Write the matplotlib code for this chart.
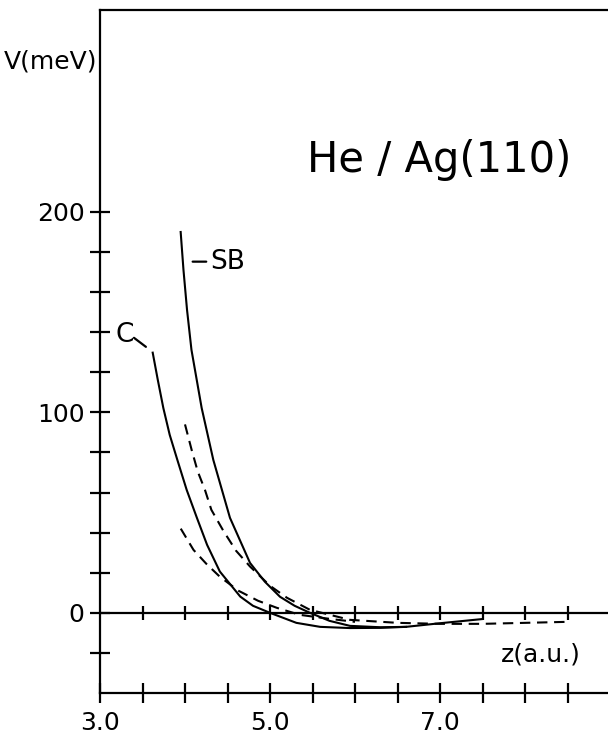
import matplotlib
matplotlib.use("Agg")
import matplotlib.pyplot as plt

plt.rcParams['font.family'] = ['DejaVu Sans']

# Solid curve labelled SB
sb_z = [3.949, 3.982, 4.024, 4.076, 4.196, 4.333, 4.529, 4.765, 4.94, 5.118, 5.29, 5.47, 5.7, 5.94,
        6.3, 6.6, 7.0, 7.5]
sb_v = [190.0, 171.1, 151.1, 131.2, 102.2, 76.3, 47.4, 24.9, 15.5, 8.0, 3.5, 0, -4, -6.5,
        -7.2, -7.0, -5.2, -3.1]

# Solid curve labelled C
c_z = [3.62, 3.68, 3.745, 3.82, 3.91, 4.02, 4.14, 4.26, 4.41, 4.65, 4.8, 5.0, 5.31, 5.59, 5.94, 6.3, 6.6]
c_v = [129.8, 116.2, 102.2, 88.8, 76.3, 61.3, 47.4, 33.9, 20.6, 8.1, 3.5, 0, -5, -7, -7.6, -7.5, -7]

# Dashed curve (upper)
du_z = [4.0, 4.08, 4.15, 4.235, 4.31, 4.45, 4.6, 4.765, 5.0, 5.2, 5.47, 5.94, 6.5, 7.0, 7.5, 8.0, 8.5]
du_v = [94, 81, 70.5, 61.3, 51.4, 41, 31, 23.1, 13.5, 7.5, 1.5, -3.5, -5, -5.5, -5.5, -5, -4.5]

# Dashed curve (lower)
dl_z = [3.95, 4.1, 4.25, 4.41, 4.63, 4.86, 5.08, 5.35, 5.7, 6.0]
dl_v = [42, 31.4, 24.5, 18, 11.0, 6.0, 2.5, -1, -3, -4.5]

x_major = [3.0, 5.0, 7.0]
x_minor = [3.5, 4.0, 4.5, 5.5, 6.0, 6.5, 7.5, 8.0, 8.5]
y_major = [0, 100, 200]
y_minor = [-20, 20, 40, 60, 80, 120, 140, 160, 180]

W, H = 608, 734
fig = plt.figure(figsize=(W/100, H/100), dpi=100)
ax = fig.add_axes([100/W, 1-693/H, 1-100/W, (693-10)/H])
ax.set_xlim(3.0, 3.0 + 508/85)
ax.set_ylim(-40, 300.75)

ax.spines['right'].set_visible(False)
for s in ['left', 'top', 'bottom']:
    ax.spines[s].set_linewidth(1.6)

ax.set_xticks(x_major)
ax.set_xticks(x_minor, minor=True)
ax.set_yticks(y_major)
ax.set_yticks(y_minor, minor=True)
ax.set_xticklabels(['3.0', '5.0', '7.0'])
ax.tick_params(axis='both', which='both', direction='inout', length=14, width=1.6,
               labelsize=18)
ax.tick_params(axis='x', which='both', pad=6)
ax.tick_params(axis='y', which='both', pad=4)

# zero line with crossing ticks
zt = x_minor + x_major[1:]
ax.axhline(0, color='black', lw=1.6)
ax.plot(zt, [0]*len(zt), ls='none', marker='|', markersize=10, mew=1.6, color='black')

lw = 1.5
ax.plot(sb_z, sb_v, color='black', lw=lw, solid_joinstyle='round')
ax.plot(c_z, c_v, color='black', lw=lw, solid_joinstyle='round')
ax.plot(du_z, du_v, color='black', lw=1.5, dashes=(5, 3.2))
ax.plot(dl_z, dl_v, color='black', lw=1.5, dashes=(5, 3.2))

# labels with leader lines
ax.annotate('', xy=(4.25, 175.2), xytext=(4.09, 175.2),
            arrowprops=dict(arrowstyle='-', lw=1.6, color='black', shrinkA=0, shrinkB=0))
ax.text(4.30, 175.2, 'SB', fontsize=19, va='center', ha='left')
ax.annotate('', xy=(3.54, 132.7), xytext=(3.40, 137.2),
            arrowprops=dict(arrowstyle='-', lw=1.6, color='black', shrinkA=0, shrinkB=0))
ax.text(3.285, 138.5, 'C', fontsize=19, va='center', ha='center')
ax.text(6.99, 226, 'He / Ag(110)', fontsize=30, ha='center', va='center')
ax.text(8.19, -21, 'z(a.u.)', fontsize=18, ha='center', va='center')
fig.text(51/W, 1-61/H, 'V(meV)', fontsize=18, ha='center', va='center')

fig.savefig('out.png', dpi=100)
